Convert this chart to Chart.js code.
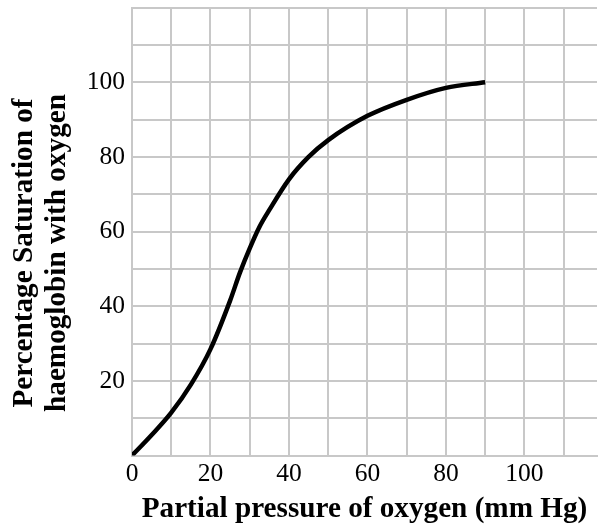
<!DOCTYPE html>
<html>
<head>
<meta charset="utf-8">
<script src="https://cdn.jsdelivr.net/npm/chart.js@4/dist/chart.umd.min.js"></script>
<style>
  html, body { margin: 0; padding: 0; background: #fff; }
  #wrap { width: 598px; height: 527px; }
</style>
</head>
<body>
<div id="wrap"><canvas id="chart"></canvas></div>
<script>
// oxygen dissociation curve
const pressure = [0, 5, 10, 15, 20, 25, 27.5, 30, 32.5, 35, 40, 45, 50, 60, 70, 80, 90];
const saturation = [0, 5.5, 11.5, 19, 28.5, 41.5, 49, 55.5, 61.3, 65.8, 74, 80, 84.5, 91, 95.3, 98.5, 100];
const xTickLabels = [0, 20, 40, 60, 80, 100];
const yTickLabels = [20, 40, 60, 80, 100];
const yTitleLines = ['Percentage Saturation of', 'haemoglobin with oxygen'];

const GRID = '#c8c8c8';
const SERIF = "'Liberation Serif', 'Times New Roman', serif";

// two-line rotated y title, placed like the original
const yTitlePlugin = {
    id: 'yTitle',
    afterDraw(chart) {
        const ctx = chart.ctx;
        const xs = [31.5, 65];
        ctx.save();
        ctx.fillStyle = '#000';
        ctx.font = 'bold 29.2px ' + SERIF;
        ctx.textAlign = 'center';
        ctx.textBaseline = 'alphabetic';
        yTitleLines.forEach((line, i) => {
            ctx.save();
            ctx.translate(xs[i], 253);
            ctx.rotate(-Math.PI / 2);
            ctx.fillText(line, 0, 0);
            ctx.restore();
        });
        ctx.restore();
    }
};

new Chart(document.getElementById('chart'), {
    type: 'line',
    data: {
        datasets: [{
            data: pressure.map((p, i) => ({ x: p, y: saturation[i] })),
            borderColor: '#000',
            borderWidth: 4.5,
            pointRadius: 0,
            fill: false,
            cubicInterpolationMode: 'monotone'
        }]
    },
    options: {
        responsive: true,
        maintainAspectRatio: false,
        animation: false,
        layout: { padding: { left: 0, right: 1, top: 6, bottom: 0 } },
        plugins: {
            legend: { display: false },
            tooltip: { enabled: false }
        },
        scales: {
            x: {
                type: 'linear',
                min: 0,
                max: 118.5,
                grid: { color: GRID, lineWidth: 2, drawTicks: false },
                border: { color: GRID, width: 2 },
                ticks: {
                    stepSize: 10,
                    includeBounds: false,
                    maxRotation: 0,
                    autoSkip: false,
                    padding: 3,
                    color: '#000',
                    font: { family: SERIF, size: 25.5 },
                    callback: v => xTickLabels.includes(v) ? String(v) : ''
                },
                title: {
                    display: true,
                    text: 'Partial pressure of oxygen (mm Hg)',
                    color: '#000',
                    font: { family: SERIF, size: 29.2, weight: 'bold' },
                    padding: { top: 0, bottom: 0 }
                },
                afterFit(scale) { scale.height = 71.5; }
            },
            y: {
                type: 'linear',
                min: 0,
                max: 120,
                grid: { color: GRID, lineWidth: 2, drawTicks: false },
                border: { color: GRID, width: 2 },
                ticks: {
                    stepSize: 10,
                    autoSkip: false,
                    padding: 7,
                    color: '#000',
                    font: ctx => ({ family: SERIF, size: yTickLabels.includes(ctx.tick && ctx.tick.value) ? 25.5 : 1 }),
                    callback: v => yTickLabels.includes(v) ? String(v) : ''
                },
                afterFit(scale) { scale.width = 132; }
            }
        }
    },
    plugins: [yTitlePlugin]
});
</script>
</body>
</html>
